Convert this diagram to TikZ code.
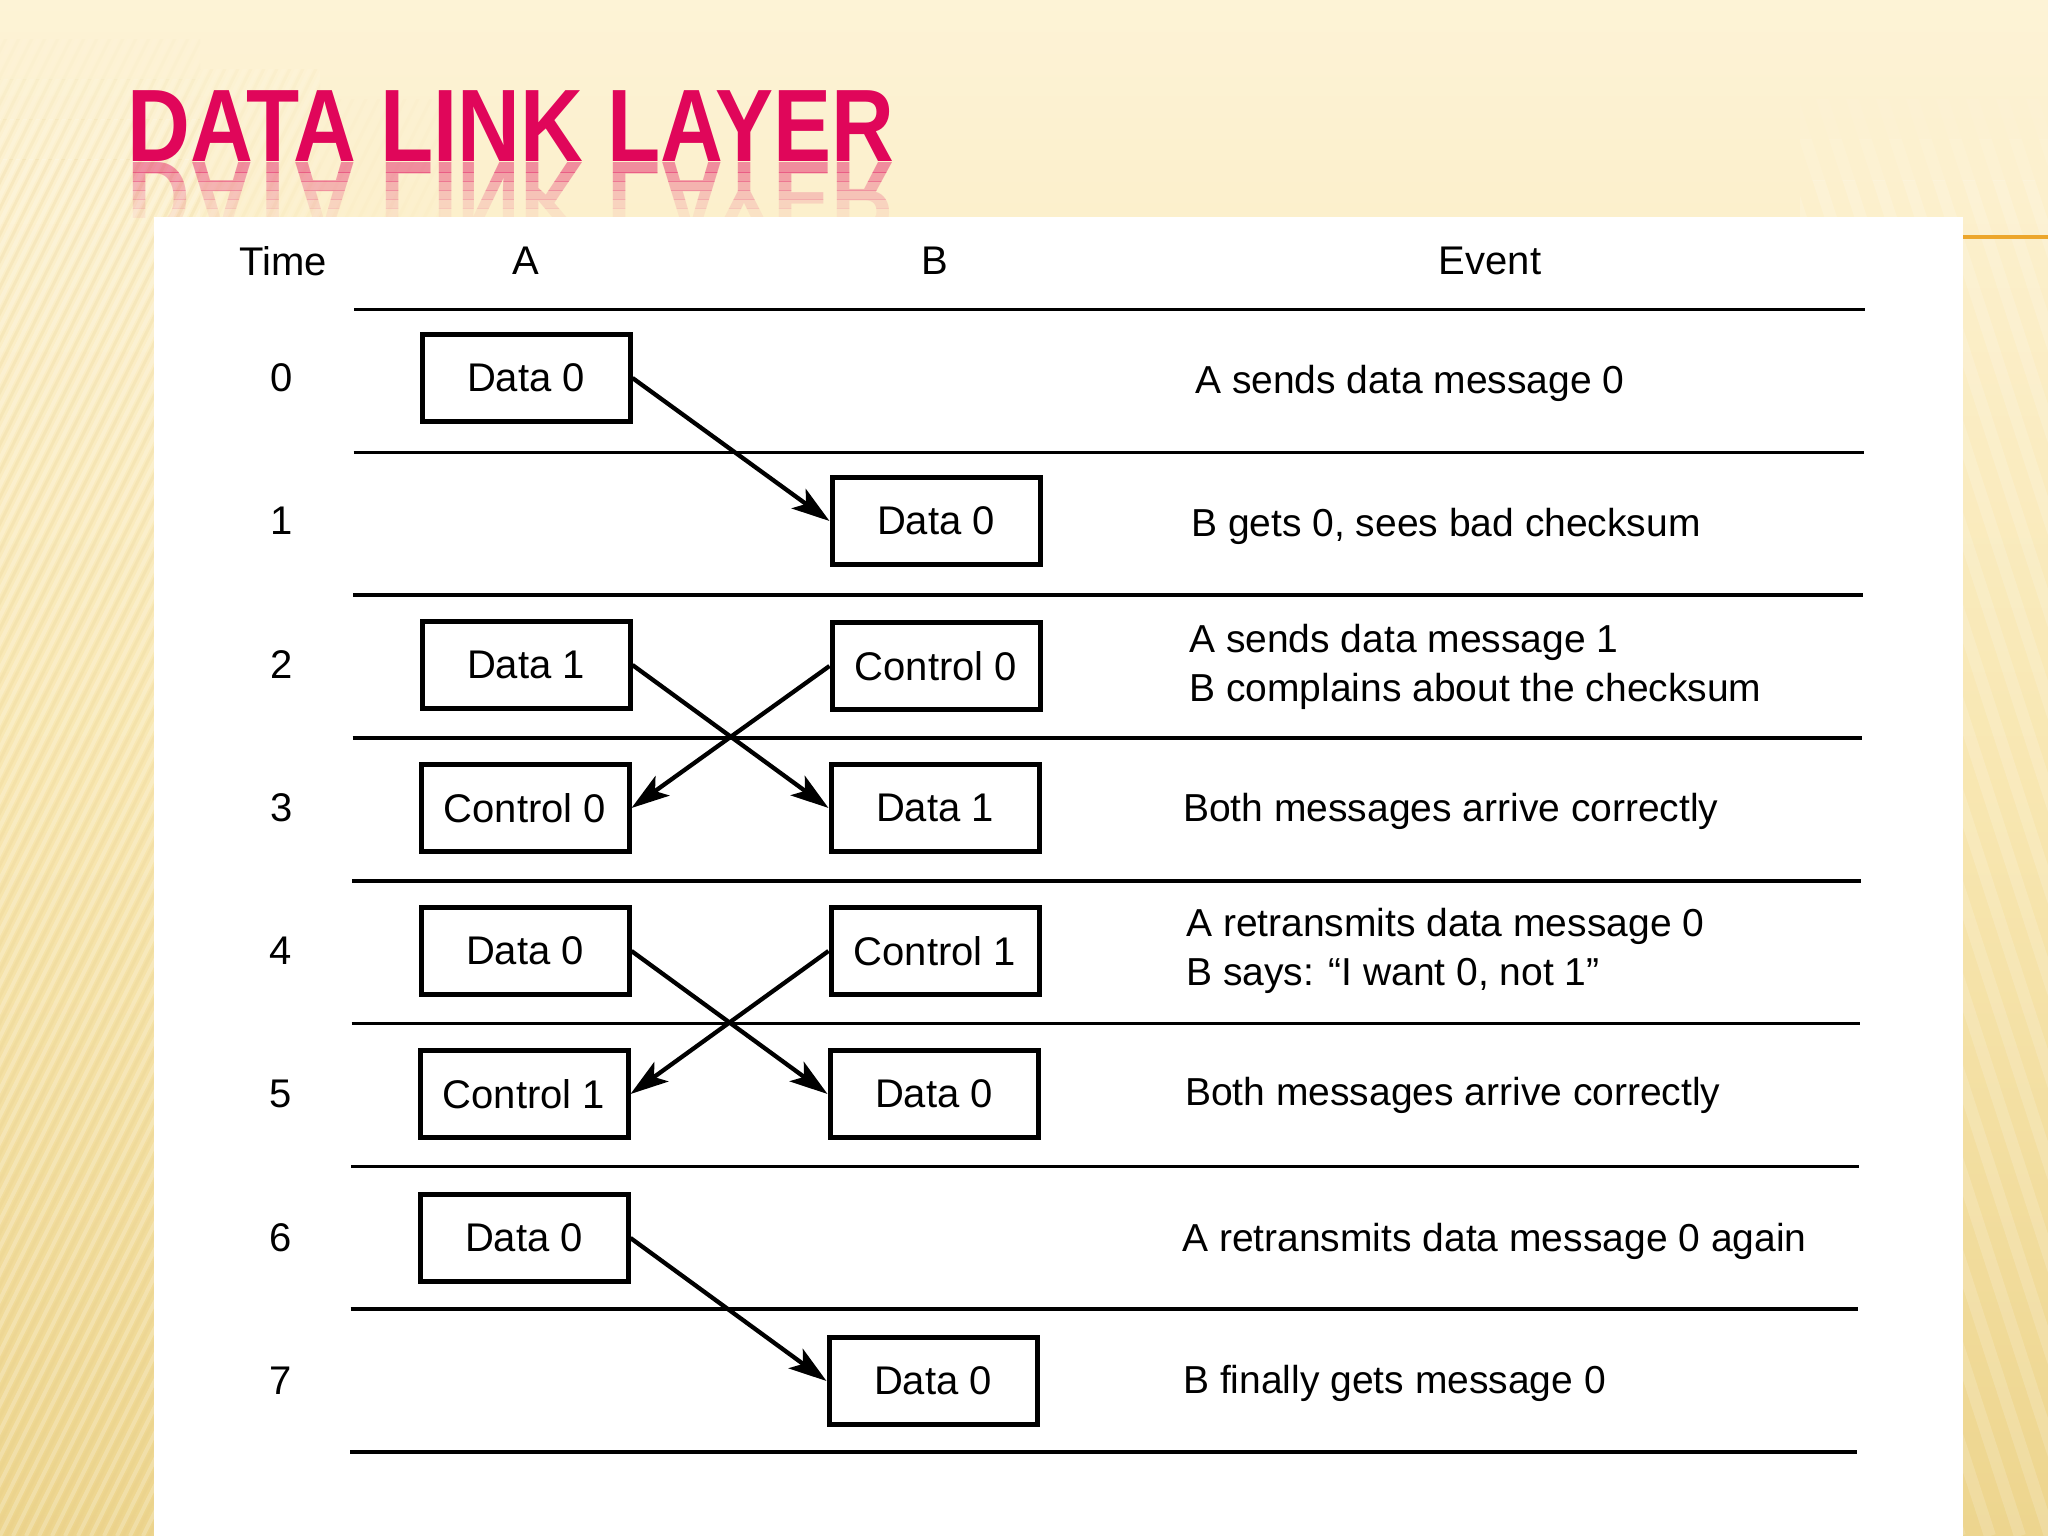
\documentclass[tikz,border=0pt]{standalone}
\usepackage{fontspec}
\setmainfont{Liberation Sans}
\usetikzlibrary{arrows.meta}
\definecolor{titlecol}{RGB}{224,6,90}
\definecolor{bgtop}{RGB}{253,243,214}
\definecolor{bgmid}{RGB}{248,231,178}
\definecolor{bgbot}{RGB}{237,213,142}
\definecolor{rulecol}{RGB}{236,166,44}
\definecolor{streakdark}{RGB}{226,200,130}
\begin{document}
\begin{tikzpicture}[x=1pt,y=-1pt,
  msg/.style={draw, line width=5pt, minimum width=208pt, minimum height=87pt, inner sep=0pt, font=\fontsize{40}{40}\selectfont},
  lbl/.style={font=\fontsize{40}{40}\selectfont, inner sep=0pt},
  evt/.style={font=\fontsize{39}{49}\selectfont, anchor=west, inner sep=0pt, align=left},
  sep/.style={line width=3.6pt},
  flow/.style={line width=4.3pt, -{Stealth[length=38pt,width=24pt,inset=9pt]}},
  ttl/.style={anchor=base west, inner sep=0pt, xscale=0.845, text=titlecol, font=\fontsize{103}{103}\selectfont\bfseries}
]
\useasboundingbox (0,0) rectangle (2048,1536);
% background
\shade[top color=bgtop, bottom color=bgbot, middle color=bgmid] (0,0) rectangle (2048,1536);
% left streaks, fading in from the top and towards the middle
\foreach \xa/\ya/\xb/\yb/\ow/\od in {0/40/200/80/0.05/0.04, 0/80/200/120/0.11/0.09, 0/120/200/160/0.17/0.13, 0/160/200/1536/0.22/0.18, 200/70/320/220/0.09/0.07, 320/100/440/220/0.04/0.03} {
  \begin{scope}
    \clip (\xa,\ya) rectangle (\xb,\yb);
    \foreach \i in {-70,...,40} {
      \draw[white, opacity=\ow, line width=4pt] (\i*13, 1536) -- (\i*13+760, 0);
      \draw[streakdark, opacity=\od, line width=3pt] (\i*13+6, 1536) -- (\i*13+766, 0);
    }
  \end{scope}
}
% right streaks
\foreach \ya/\yb/\ow in {100/140/0.05, 140/180/0.10, 180/1536/0.16} {
  \begin{scope}
    \clip (1800,\ya) rectangle (2048,\yb);
    \foreach \i in {0,...,40} {
      \draw[white, opacity=\ow, line width=12pt] (1400+\i*30, 0) -- (1900+\i*30, 1536);
    }
  \end{scope}
}
% title and its reflection
\node[ttl] (title) at (127,161) {DATA LINK LAYER};
\foreach \k/\op in {0/0.42,1/0.34,2/0.26,3/0.19,4/0.12,5/0.06} {
  \begin{scope}
    \clip (100,163+\k*9) rectangle (950,172+\k*9);
    \node[ttl, yscale=-1, text opacity=\op] (refl\k) at (127,163) {DATA LINK LAYER};
  \end{scope}
}
% white panel
\fill[white] (154,217) rectangle (1963,1536);
\draw[rulecol, line width=3.5pt] (1963,237) -- (2048,237);
% headers
\node[lbl] (hTime) at (283,261) {Time};
\node[lbl] (hA) at (526,261) {A};
\node[lbl] (hB) at (935,261) {B};
\node[lbl] (hEvent) at (1490,261) {Event};
% separators
\foreach \i in {0,...,8} {
  \draw[sep] (354-0.5*\i, 309.5+142.8*\i) -- (1865-1*\i, 309.5+142.8*\i);
}
% time numbers
\node[lbl] (t0) at (282,378) {0};
\node[lbl] (t1) at (282,521) {1};
\node[lbl] (t2) at (282,665) {2};
\node[lbl] (t3) at (282,808) {3};
\node[lbl] (t4) at (281,951) {4};
\node[lbl] (t5) at (281,1094) {5};
\node[lbl] (t6) at (281,1238) {6};
\node[lbl] (t7) at (281,1381) {7};
% message boxes
\node[msg] (a0) at (526,378) {Data 0};
\node[msg] (b1) at (936,521) {Data 0};
\node[msg] (a2) at (526,665) {Data 1};
\node[msg] (b2) at (936,666) {Control 0};
\node[msg] (a3) at (525,808) {Control 0};
\node[msg] (b3) at (935,808) {Data 1};
\node[msg] (a4) at (525,951) {Data 0};
\node[msg] (b4) at (935,951) {Control 1};
\node[msg] (a5) at (524,1094) {Control 1};
\node[msg] (b5) at (934,1094) {Data 0};
\node[msg] (a6) at (524,1238) {Data 0};
\node[msg] (b7) at (933,1381) {Data 0};
% arrows
\draw[flow] (a0.east) -- (b1.west);
\draw[flow] (a2.east) -- (b3.west);
\draw[flow] (b2.west) -- (a3.east);
\draw[flow] (a4.east) -- (b5.west);
\draw[flow] (b4.west) -- (a5.east);
\draw[flow] (a6.east) -- (b7.west);
% events
\node[evt] (e0) at (1195,383) {A sends data message 0};
\node[evt] (e1) at (1191,526) {B gets 0, sees bad checksum};
\node[evt] (e2) at (1189,667) {A sends data message 1\\B complains about the checksum};
\node[evt] (e3) at (1183,811) {Both messages arrive correctly};
\node[evt] (e4) at (1186,951) {A retransmits data message 0\\B says: “I want 0, not 1”};
\node[evt] (e5) at (1185,1095) {Both messages arrive correctly};
\node[evt] (e6) at (1182,1241) {A retransmits data message 0 again};
\node[evt] (e7) at (1183,1383) {B finally gets message 0};
\end{tikzpicture}
\end{document}
